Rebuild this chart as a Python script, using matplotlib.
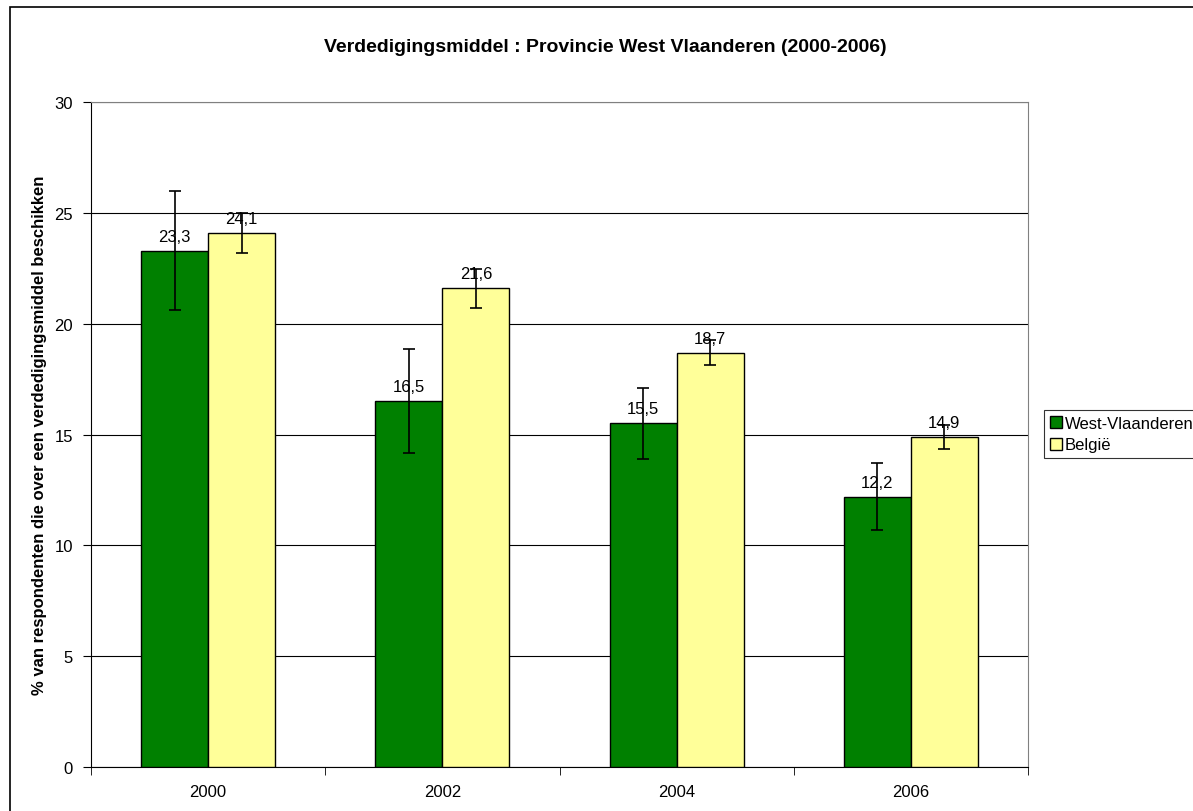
import numpy as np
import matplotlib
matplotlib.use('Agg')
import matplotlib.pyplot as plt
from matplotlib.patches import Rectangle

plt.rcParams['font.family'] = ['Liberation Sans', 'DejaVu Sans']

# data
years = ['2000', '2002', '2004', '2006']
west = [23.3, 16.5, 15.5, 12.2]
west_err = [2.7, 2.35, 1.62, 1.5]
belgie = [24.1, 21.6, 18.7, 14.9]
belgie_err = [0.9, 0.88, 0.58, 0.54]
labels_west = ['23,3', '16,5', '15,5', '12,2']
labels_belgie = ['24,1', '21,6', '18,7', '14,9']

fig = plt.figure(figsize=(11.93, 8.12), dpi=100)
ax = fig.add_axes([0.0763, 0.0542, 0.7854, 0.8189])

x = np.arange(len(years))
w = 0.286
b1 = ax.bar(x - w/2, west, w, color='#008000', edgecolor='black', linewidth=1,
            label='West-Vlaanderen', zorder=3)
b2 = ax.bar(x + w/2, belgie, w, color='#FFFF99', edgecolor='black', linewidth=1,
            label='België', zorder=3)
ax.errorbar(x - w/2, west, yerr=west_err, fmt='none', ecolor='black',
            elinewidth=1.2, capsize=4, capthick=1.2, zorder=4)
ax.errorbar(x + w/2, belgie, yerr=belgie_err, fmt='none', ecolor='black',
            elinewidth=1.2, capsize=4, capthick=1.2, zorder=4)

for i in range(len(years)):
    ax.annotate(labels_west[i], (x[i] - w/2, west[i]), xytext=(0, 5),
                textcoords='offset points', ha='center', va='bottom', fontsize=12, zorder=5)
    ax.annotate(labels_belgie[i], (x[i] + w/2, belgie[i]), xytext=(0, 5),
                textcoords='offset points', ha='center', va='bottom', fontsize=12, zorder=5)

ax.set_xlim(-0.5, 3.5)
ax.set_ylim(0, 30)
ax.set_yticks(np.arange(0, 31, 5))
ax.yaxis.grid(True, color='black', linewidth=0.8, zorder=0)
ax.set_axisbelow(True)
ax.set_xticks(x)
ax.set_xticklabels(years)
ax.set_xticks(np.arange(-0.5, 4, 1), minor=True)
ax.tick_params(axis='x', which='major', length=0, pad=12, labelsize=12)
ax.tick_params(axis='x', which='minor', length=6, direction='out')
ax.tick_params(axis='y', length=6, direction='out', labelsize=12, pad=7)
for s in ['top', 'right']:
    ax.spines[s].set_color('#808080')
ax.spines['left'].set_color('black')
ax.spines['bottom'].set_color('black')

ax.set_ylabel('% van respondenten die over een verdedigingsmiddel beschikken',
              fontsize=12, fontweight='bold', labelpad=5)

fig.text(605/1193, 1 - 47/812, 'Verdedigingsmiddel : Provincie West Vlaanderen (2000-2006)',
         ha='center', va='center', fontsize=14, fontweight='bold')

leg = fig.legend(handles=[b1, b2], loc='upper left', bbox_to_anchor=(1044/1193, 1 - 411/812),
                 frameon=True, fancybox=False, edgecolor='black', fontsize=12,
                 handlelength=0.7, handleheight=0.7, handletextpad=0.2,
                 borderpad=0.35, labelspacing=0.4, borderaxespad=0)
leg.get_frame().set_linewidth(0.8)

# outer chart frame (extends past the right/bottom edge)
fig.patches.append(Rectangle((10/1193, -0.05), 1.2, 1 - 8/812 + 0.05,
                             transform=fig.transFigure, fill=False,
                             edgecolor='black', linewidth=1.2))

fig.savefig('out.png', dpi=100)
